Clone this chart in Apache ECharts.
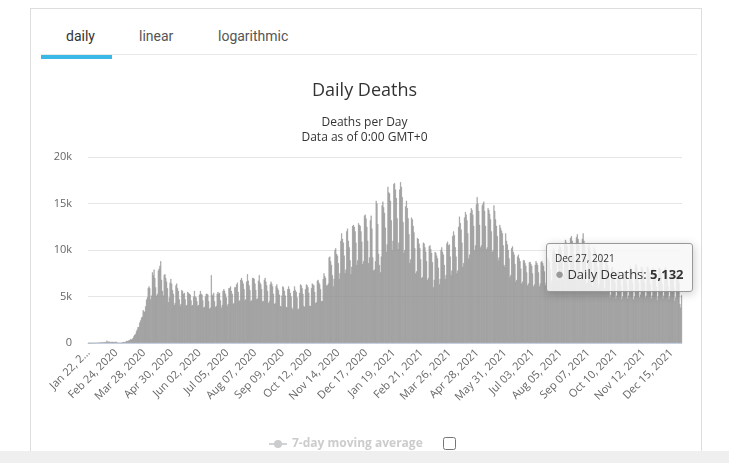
<!DOCTYPE html>
<html>
<head>
<meta charset="utf-8">
<script src="https://cdn.jsdelivr.net/npm/echarts@6/dist/echarts.min.js"></script>
<style>
  html, body { margin: 0; padding: 0; width: 729px; height: 463px; overflow: hidden; background: #fff; }
  #card { position: absolute; left: 30px; top: 8px; width: 672px; height: 460px; border: 1px solid #ddd; box-sizing: border-box; }
  #bottomband { position: absolute; left: 0; top: 451px; width: 729px; height: 12px; background: #efefef; }
  .tab { position: absolute; top: 28px; font-family: "Liberation Sans Narrow", "Roboto", sans-serif; font-size: 14px; color: #555; }
  #tabline { position: absolute; left: 41px; top: 54px; width: 656px; height: 1px; background: #e8e8e8; }
  #tabactive { position: absolute; left: 41px; top: 55px; width: 71px; height: 4px; background: #3bb9e6; }
  #chart { position: absolute; left: 0; top: 0; width: 729px; height: 463px; }
  #cb { position: absolute; left: 443px; top: 437px; margin: 0; width: 13px; height: 13px; z-index: 5; }
</style>
</head>
<body>
<div id="card"></div>
<div id="bottomband"></div>
<div id="tabline"></div>
<div id="tabactive"></div>
<div class="tab" style="left:66px;color:#333">daily</div>
<div class="tab" style="left:139px">linear</div>
<div class="tab" style="left:218px">logarithmic</div>
<div id="chart"></div>
<input type="checkbox" id="cb">
<script>
// ---- data (daily deaths, Jan 22 2020 .. Dec 27 2021) ----
const startDate = [2020, 0, 22];
const yTicks = [0, 5000, 10000, 15000, 20000];
const jan2020 = [8,1,8,16,14,26,49,2,38,42];
const feb2020 = [46,45,57,64,66,73,73,86,89,97,108,97,254,121,143,142,106,98,139,115,118,109,97,150,71,52,29,44,37];
const mar2020 = [58,72,87,113,105,97,237,210,202,292,286,409,381,418,547,716,887,979,1290,1465,1727,1700,2195,2429,2722,2830,3536,3395,3361,3954,4659];
const apr2020 = [4900,5900,6100,5900,4700,5100,7600,7300,7900,7000,6000,5100,5300,7800,8000,8300,8800,6800,5600,5100,7300,7400,7000,6600,5900,4400,4900,6500,6900,6400];
const may2020 = [5700,5300,4100,4300,6200,6400,5900,5600,4700,4000,4200,5700,5600,5300,5400,4700,4000,4100,5500,5400,5300,5200,4600,4000,4100,5000,5600,5000,4900,4500,4000];
const jun2020 = [4100,5200,5600,5300,5200,4600,3800,3900,5000,5300,5300,5200,4500,3700,3800,7300,5200,5100,5400,4500,3900,4000,5300,5500,5300,5400,4600,3800,4100,5600];
const jul2020 = [5800,5600,5300,4900,4000,4200,5900,5900,6100,5600,5300,4200,4300,6000,6000,6300,6500,5500,4500,4600,6800,7000,6700,6400,5800,4600,4700,6600,7400,6700,6200];
const aug2020 = [5700,4500,4600,7000,7000,6900,6400,5700,4700,4800,6700,7300,6500,6300,5800,4500,4500,6800,7000,6600,6200,5600,4300,4500,6300,6600,6400,6100,5300,4200,4300];
const sep2020 = [6100,6300,5900,5700,5200,4000,3900,5100,6100,6000,5600,5100,3900,3800,5800,6100,5800,5400,5000,3800,3600,5600,6100,5700,5500,4900,3600,3700,5400,6300];
const oct2020 = [6200,5900,5300,4000,3900,5800,6300,6200,6000,5400,4000,4000,5900,6400,6300,6200,5500,4300,4400,6700,6800,6500,6300,5800,4500,4500,6900,7500,7200,7000,6200];
const nov2020 = [6200,6400,9200,9300,8800,8400,7300,6100,6900,10000,10200,9600,9400,8600,6900,7500,11000,11800,11200,10800,9400,7500,7900,12000,12300,11000,10300,8900,7400,8200];
const dec2020 = [12600,12700,12500,12000,10800,8400,8900,12900,12700,12600,12000,10900,8500,8800,13700,13800,13400,12500,11000,8600,9200,13200,13700,12300,9200,7800,7900,8800,15300,15000,12800];
const jan2021 = [9600,8400,7600,9300,14800,15200,14600,14000,12400,9800,10600,16800,16200,16100,15300,13200,10000,11000,17100,17200,16500,15600,13400,10100,10800,16500,17300,16800,15700,13000,9700];
const feb2021 = [10000,14700,15300,14500,13400,11700,8600,9000,13500,13300,12600,11900,10200,7500,7700,11300,11200,10700,10200,9000,7000,7100,10800,10700,10300,9800,8800,6800];
const mar2021 = [7000,10400,10500,10100,9700,8700,6000,6800,9800,9700,9400,9100,8100,6300,6900,10000,10300,9800,9500,8400,6900,7300,10700,10900,10500,10600,9300,7300,7800,11500,12000];
const apr2021 = [11600,10300,9300,7500,7800,12500,13600,12900,12200,10800,8200,8600,13500,14100,13800,13200,11800,9100,9500,14000,14500,14300,13800,12600,10000,10500,14900,15700,15000,14200];
const may2021 = [12700,10300,10500,14800,15000,15200,14200,12600,10100,10300,14500,14300,13900,13300,12000,9800,10000,14800,14200,13300,12600,11500,8900,9200,12700,12400,12100,11800,10500,8400,8200];
const jun2021 = [11800,11000,10600,10000,9100,7100,7300,10200,10400,9800,9500,8500,6600,6800,9300,9500,9100,8800,8000,6400,6600,8900,8900,8600,8300,7600,6200,6400,8700,8700];
const jul2021 = [8500,8300,7500,6100,6300,8400,8800,8600,8400,7600,6100,6400,8700,8800,8600,8300,7700,6200,6500,9000,9200,8900,8700,7900,6400,6800,9800,10200,9900,9700,8600];
const aug2021 = [6600,7100,10100,10500,10300,10000,9100,6800,7300,10700,11100,10800,10400,9300,6900,7500,11300,11500,11000,10500,9500,6900,7600,11400,11700,11200,10500,9200,6800,7300,11200];
const sep2021 = [11800,11000,10500,9300,6400,6500,10300,10700,10200,9800,8700,6100,6700,10300,10100,9800,9300,8200,5900,6300,9700,9400,9100,8700,7600,5600,5900,9000,8700,8400];
const oct2021 = [8000,6900,4900,5200,8100,8200,7800,7500,6500,4800,5100,7600,7800,7500,7300,6200,4700,5000,7600,7700,7500,7300,6300,4800,5100,7900,8300,7800,7400,6400,4700];
const nov2021 = [5000,8400,8500,8100,7700,6500,4900,5200,8200,8200,7900,7600,6500,4900,5100,8200,8200,7900,7500,6300,4800,5100,8100,8000,7300,6800,6100,4600,5000,8100];
const dec2021 = [8100,7900,7500,6300,4800,5100,8000,8200,7900,7300,6100,4700,5000,7900,7700,7500,7300,6000,4500,4900,7600,7700,7400,6500,4200,3800,5132];

const dailyDeaths = [].concat(jan2020, feb2020, mar2020, apr2020, may2020, jun2020, jul2020, aug2020, sep2020, oct2020, nov2020, dec2020,
  jan2021, feb2021, mar2021, apr2021, may2021, jun2021, jul2021, aug2021, sep2021, oct2021, nov2021, dec2021);

const monthNames = ['Jan','Feb','Mar','Apr','May','Jun','Jul','Aug','Sep','Oct','Nov','Dec'];
const categories = [];
for (let i = 0; i < dailyDeaths.length; i++) {
  const d = new Date(Date.UTC(startDate[0], startDate[1], startDate[2] + i));
  const dd = String(d.getUTCDate()).padStart(2, '0');
  categories.push(monthNames[d.getUTCMonth()] + ' ' + dd + ', ' + d.getUTCFullYear());
}

const chart = echarts.init(document.getElementById('chart'));
const option = {
  animation: false,
  title: [
    { text: 'Daily Deaths', left: 'center', top: 77,
      textStyle: { fontFamily: 'Open Sans', fontSize: 18, fontWeight: 'normal', color: '#333' } },
    { text: 'Deaths per Day\nData as of 0:00 GMT+0', left: 'center', top: 110,
      textStyle: { fontFamily: 'Open Sans', fontSize: 12, fontWeight: 'normal', color: '#333', lineHeight: 15 } }
  ],
  grid: { left: 88, right: 47, top: 157, bottom: 120 },
  legend: {
    data: ['7-day moving average'],
    selected: { '7-day moving average': false },
    left: 263, top: 433,
    inactiveColor: '#ccc',
    itemWidth: 18, itemHeight: 10,
    textStyle: { fontFamily: 'Open Sans', fontSize: 12, fontWeight: 'bold' }
  },
  tooltip: {
    trigger: 'item',
    alwaysShowContent: true,
    transitionDuration: 0,
    position: [546, 243],
    backgroundColor: 'rgba(247,247,247,0.85)',
    borderColor: '#999',
    borderWidth: 1,
    borderRadius: 3,
    padding: [8, 8],
    textStyle: { fontFamily: 'Open Sans', color: '#333' },
    formatter: function (p) {
      return '<div style="font-size:10px;line-height:13px;color:#333">' + p.name.replace(/ 0(\d),/, ' $1,') + '</div>' +
        '<div style="font-size:13px;line-height:17px"><span style="color:#999;font-size:15px">\u25CF</span> Daily Deaths: <b>' +
        p.value.toLocaleString('en-US') + '</b></div>';
    }
  },
  xAxis: {
    type: 'category',
    data: categories,
    axisLine: { lineStyle: { color: '#ccd6eb' } },
    axisTick: { show: false },
    axisLabel: {
      interval: 32, rotate: 45, margin: 8, color: '#666', fontFamily: 'Open Sans', fontSize: 11,
      formatter: function (v, i) { return i === 0 ? 'Jan 22, 2...' : v; }
    }
  },
  yAxis: {
    type: 'value', min: yTicks[0], max: yTicks[yTicks.length - 1], interval: 5000,
    axisLine: { show: false }, axisTick: { show: false },
    splitLine: { lineStyle: { color: '#e6e6e6' } },
    axisLabel: { margin: 16, color: '#666', fontFamily: 'Open Sans', fontSize: 11,
      formatter: function (v) { return v === 0 ? '0' : (v / 1000) + 'k'; } }
  },
  series: [
    { name: 'Daily Deaths', type: 'bar', data: dailyDeaths, barCategoryGap: '0%',
      itemStyle: { color: '#979797', borderColor: '#979797', borderWidth: 0.35 }, emphasis: { disabled: true } },
    { name: '7-day moving average', type: 'line', data: [], symbol: 'circle', symbolSize: 6,
      itemStyle: { color: '#999' }, lineStyle: { color: '#999' } }
  ]
};
chart.setOption(option);
chart.dispatchAction({ type: 'showTip', seriesIndex: 0, dataIndex: dailyDeaths.length - 1 });
</script>
</body>
</html>
